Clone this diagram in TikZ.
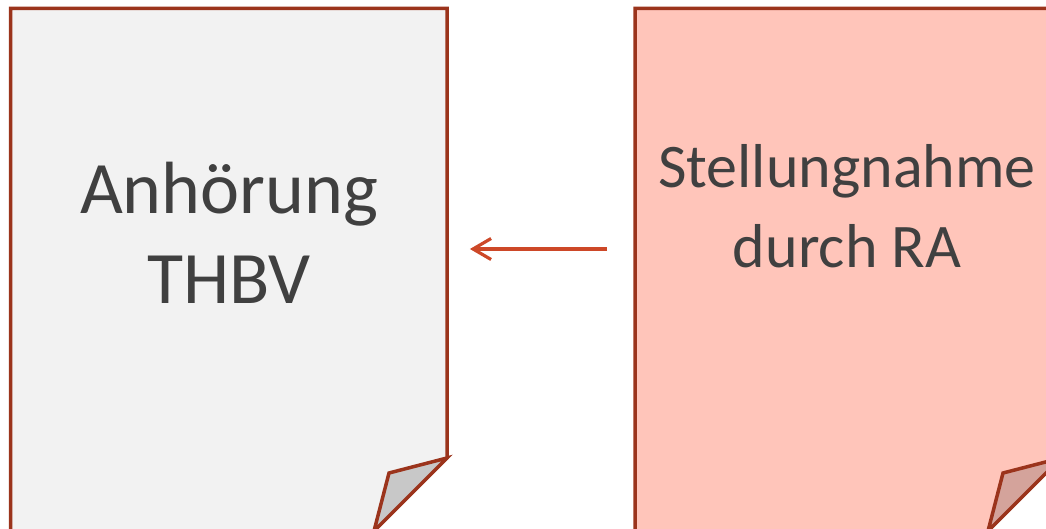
\documentclass[tikz,border=0pt]{standalone}
\usepackage{fontspec}
\setmainfont{Carlito}
\usetikzlibrary{arrows.meta}
\definecolor{bordc}{RGB}{155,52,28}
\definecolor{arrc}{RGB}{205,72,40}
\definecolor{fillL}{RGB}{242,242,242}
\definecolor{fillR}{RGB}{255,197,186}
\definecolor{foldL}{RGB}{200,200,200}
\definecolor{foldR}{RGB}{212,163,155}
\definecolor{txt}{RGB}{64,64,64}
\tikzset{
  page/.style={draw=bordc, line width=3.5pt, line join=miter},
  lbl/.style={text=txt, align=center, inner sep=0pt},
  arr/.style={draw=arrc, line width=3.2pt, -{Straight Barb[length=18pt,width=21pt,line width=3.2pt]}}
}
\begin{document}
\begin{tikzpicture}[x=1pt,y=-1pt]
\useasboundingbox (0,0) rectangle (1046,529);
\clip (0,0) rectangle (1046,529);
% left page
\path[page, fill=fillL] (10.5,8.5) -- (447,8.5) -- (447,458) -- (374,531) -- (374,534) -- (10.5,534) -- cycle;
\path[page, fill=foldL] (447,458) -- (389,473) -- (374,531) -- cycle;
% right page
\path[page, fill=fillR] (635,8.5) -- (1061,8.5) -- (1061,458) -- (988,531) -- (988,534) -- (635,534) -- cycle;
\path[page, fill=foldR] (1061,458) -- (1003,473) -- (988,531) -- cycle;
% invisible frames
\node[inner sep=0pt, minimum width=437pt, minimum height=524pt, anchor=north west] (L) at (10.5,8.5) {};
\node[inner sep=0pt, minimum width=426pt, minimum height=524pt, anchor=north west] (R) at (635,8.5) {};
% labels
\node[lbl, font=\fontsize{74}{89}\selectfont, anchor=base] (tL) at (229,303) {Anhörung\\THBV};
\node[lbl, font=\fontsize{62}{79}\selectfont, anchor=base] (tR) at (847,267) {Stellungnahme\\durch RA};
% arrow
\coordinate (aS) at ([xshift=-28pt]R.west |- 0,249);
\coordinate (aE) at ([xshift=22pt]L.east |- 0,249);
\draw[arr] (aS) -- (aE);
\end{tikzpicture}
\end{document}
